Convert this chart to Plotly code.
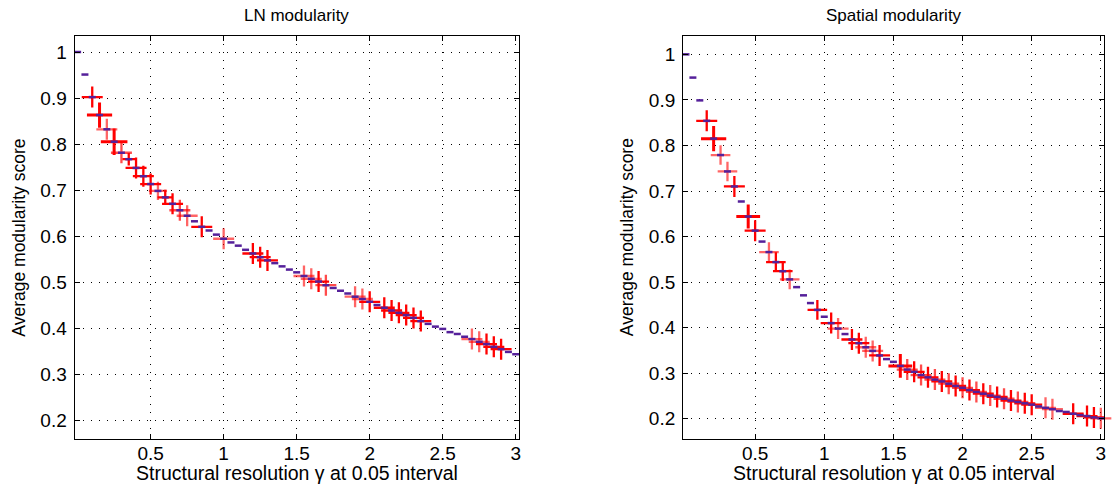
import plotly.graph_objects as go

gamma = [0.00, 0.05, 0.10, 0.15, 0.20, 0.25, 0.30, 0.35, 0.40, 0.45,
         0.50, 0.55, 0.60, 0.65, 0.70, 0.75, 0.80, 0.85, 0.90, 0.95,
         1.00, 1.05, 1.10, 1.15, 1.20, 1.25, 1.30, 1.35, 1.40, 1.45,
         1.50, 1.55, 1.60, 1.65, 1.70, 1.75, 1.80, 1.85, 1.90, 1.95,
         2.00, 2.05, 2.10, 2.15, 2.20, 2.25, 2.30, 2.35, 2.40, 2.45,
         2.50, 2.55, 2.60, 2.65, 2.70, 2.75, 2.80, 2.85, 2.90, 2.95, 3.00]

ln_mean = [1.000, 0.951, 0.902, 0.863, 0.832, 0.805, 0.781, 0.767, 0.748, 0.730,
           0.713, 0.698, 0.684, 0.670, 0.656, 0.644, 0.632, 0.620, 0.612, 0.603,
           0.594, 0.586, 0.579, 0.570, 0.562, 0.554, 0.547, 0.541, 0.534, 0.527,
           0.521, 0.513, 0.507, 0.501, 0.493, 0.487, 0.481, 0.475, 0.468, 0.463,
           0.457, 0.450, 0.444, 0.438, 0.433, 0.428, 0.422, 0.415, 0.409, 0.403,
           0.398, 0.391, 0.387, 0.381, 0.376, 0.370, 0.365, 0.359, 0.354, 0.348, 0.343]

sp_mean = [1.000, 0.949, 0.899, 0.854, 0.815, 0.779, 0.743, 0.710, 0.677, 0.644,
           0.613, 0.589, 0.566, 0.544, 0.524, 0.506, 0.489, 0.471, 0.454, 0.439,
           0.424, 0.410, 0.398, 0.386, 0.374, 0.366, 0.357, 0.349, 0.339, 0.331,
           0.325, 0.316, 0.308, 0.303, 0.296, 0.291, 0.286, 0.282, 0.277, 0.272,
           0.268, 0.263, 0.259, 0.255, 0.251, 0.248, 0.244, 0.240, 0.237, 0.234,
           0.231, 0.227, 0.224, 0.221, 0.217, 0.215, 0.211, 0.208, 0.206, 0.203, 0.201]

# cross marker sizes (0 = no cross) and opacities
ln_cross = [0, 0, 15, 18, 15, 19, 15, 9, 15, 15,
            15, 13, 11, 15, 15, 15, 0, 15, 0, 0,
            15, 0, 0, 0, 15, 15, 15, 0, 0, 0,
            0, 15, 15, 15, 15, 0, 0, 0, 15, 15,
            15, 0, 15, 15, 15, 15, 15, 15, 0, 0,
            0, 0, 0, 0, 15, 15, 15, 15, 15, 0, 0]
ln_alpha = [1, 1, 1, 1, 0.6, 1, 0.7, 1, 1, 1,
            1, 0.6, 1, 1, 0.7, 0.6, 1, 1, 1, 1,
            0.6, 1, 1, 1, 1, 1, 1, 1, 1, 1,
            1, 0.6, 0.6, 1, 0.7, 1, 1, 1, 0.6, 0.6,
            1, 1, 1, 1, 1, 1, 1, 1, 1, 1,
            1, 1, 1, 1, 0.6, 0.6, 1, 1, 1, 1, 1]

sp_cross = [0, 0, 0, 15, 18, 14, 14, 15, 0, 17,
            15, 0, 14, 14, 14, 14, 0, 0, 0, 14,
            0, 15, 15, 0, 15, 15, 15, 15, 15, 0,
            0, 17, 15, 15, 15, 15, 15, 15, 15, 15,
            15, 15, 15, 15, 15, 15, 15, 15, 15, 15,
            15, 0, 15, 15, 0, 0, 15, 0, 15, 15, 15]
sp_alpha = [1, 1, 1, 1, 1, 0.6, 0.6, 1, 1, 1,
            1, 1, 0.6, 1, 1, 0.6, 1, 1, 1, 1,
            1, 1, 0.6, 1, 1, 1, 0.6, 0.6, 1, 1,
            1, 1, 0.7, 1, 0.7, 1, 0.7, 1, 0.7, 1,
            0.7, 1, 0.7, 1, 0.7, 1, 0.7, 1, 0.7, 1,
            1, 1, 0.6, 0.6, 1, 1, 1, 1, 1, 1, 0.6]

x_ticks = [0.5, 1, 1.5, 2, 2.5, 3]
x_labels = ["0.5", "1", "1.5", "2", "2.5", "3"]
y_ticks = [0.2, 0.3, 0.4, 0.5, 0.6, 0.7, 0.8, 0.9, 1.0]
y_labels = ["0.2", "0.3", "0.4", "0.5", "0.6", "0.7", "0.8", "0.9", "1"]

titles = ["LN modularity", "Spatial modularity"]
x_title = "Structural resolution γ at 0.05 interval"
y_title = "Average modularity score"

FONT = "Liberation Sans, Arial, Helvetica, sans-serif"
W, H = 1116, 486

fig = go.Figure()

panels = [
    (ln_mean, ln_cross, ln_alpha, "x", "y"),
    (sp_mean, sp_cross, sp_alpha, "x2", "y2"),
]
for mean, cross, alpha, xa, ya in panels:
    cx = [g for g, s in zip(gamma, cross) if s > 0]
    cy = [m for m, s in zip(mean, cross) if s > 0]
    cs = [s for s in cross if s > 0]
    ca = [a for a, s in zip(alpha, cross) if s > 0]
    cw = [3 if s >= 17 else 2.3 for s in cs]
    fig.add_trace(go.Scatter(
        x=cx, y=cy, mode="markers", xaxis=xa, yaxis=ya, showlegend=False,
        cliponaxis=False,
        marker=dict(symbol="cross-thin", size=cs, opacity=ca, color="#ff0000",
                    line=dict(color="#ff0000", width=cw)),
        hoverinfo="skip"))
    fig.add_trace(go.Scatter(
        x=gamma, y=mean, mode="markers", xaxis=xa, yaxis=ya, showlegend=False,
        cliponaxis=False,
        marker=dict(symbol="line-ew", size=5, color="#55209a",
                    line=dict(color="#55209a", width=2.5))))

px_dom = [(74.7, 520.0), (684.3, 1106.0)]
top, bot = 36.0, 439.0
y_ranges = [[0.1587, 1.0348], [0.1556, 1.0403]]
x_range = [-0.021, 3.023]

axis_common = dict(
    showline=True, linecolor="black", linewidth=1, mirror="ticks",
    ticks="inside", ticklen=5, tickcolor="black", tickwidth=1,
    showgrid=True, gridcolor="#000000", gridwidth=1, griddash="1px,7px",
    zeroline=False, tickfont=dict(family=FONT, size=19, color="black"),
)

layout = dict(
    width=W, height=H, margin=dict(l=0, r=0, t=0, b=0),
    paper_bgcolor="white", plot_bgcolor="white",
    font=dict(family=FONT, color="black"),
)
for i, (x0, x1) in enumerate(px_dom):
    sfx = "" if i == 0 else str(i + 1)
    layout["xaxis" + sfx] = dict(
        axis_common, domain=[x0 / W, x1 / W], range=x_range,
        tickvals=x_ticks, ticktext=x_labels, anchor="y" + sfx,
        ticklabelstandoff=-3)
    layout["yaxis" + sfx] = dict(
        axis_common, domain=[1 - bot / H, 1 - top / H], range=y_ranges[i],
        tickvals=y_ticks, ticktext=y_labels, anchor="x" + sfx,
        ticklabelstandoff=3)

fig.update_layout(**layout)

ann = []
for i, (x0, x1) in enumerate(px_dom):
    cxp = (x0 + x1) / 2 / W
    ann.append(dict(text=titles[i], x=cxp, y=1 - 15 / H, xref="paper", yref="paper",
                    showarrow=False, xanchor="center", yanchor="middle",
                    font=dict(family=FONT, size=17, color="black")))
    ann.append(dict(text=x_title, x=cxp, y=1 - 473 / H, xref="paper", yref="paper",
                    showarrow=False, xanchor="center", yanchor="middle",
                    font=dict(family=FONT, size=19.5, color="black")))
    ann.append(dict(text=y_title, x=(x0 - 56.5) / W, y=1 - (top + bot) / 2 / H,
                    xref="paper", yref="paper", textangle=-90,
                    showarrow=False, xanchor="center", yanchor="middle",
                    font=dict(family=FONT, size=17.5, color="black")))
fig.update_layout(annotations=ann)

fig.write_html("out.html")
